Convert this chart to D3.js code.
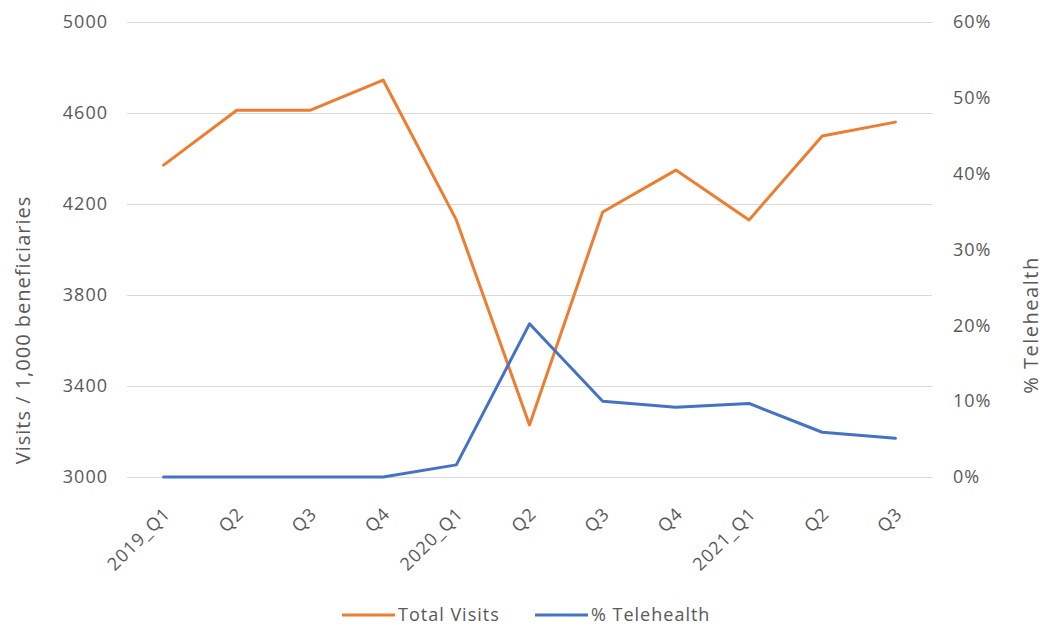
<!DOCTYPE html>
<html>
<head>
<meta charset="utf-8">
<script src="https://cdn.jsdelivr.net/npm/d3@7"></script>
<style>
  html, body { margin: 0; padding: 0; background: #fff; }
  svg text { font-family: "Open Sans", "Liberation Sans", sans-serif; fill: #595959; }
</style>
</head>
<body>
<svg id="chart" width="1044" height="627"></svg>
<script>
// Quarterly categories
const quarters = ["2019_Q1", "Q2", "Q3", "Q4", "2020_Q1", "Q2", "Q3", "Q4", "2021_Q1", "Q2", "Q3"];
// Total visits per 1,000 beneficiaries (left axis)
const totalVisits = [4371, 4612, 4612, 4745, 4130, 3229, 4165, 4349, 4130, 4499, 4560];
// Share of visits delivered by telehealth (right axis)
const telehealthShare = [0.0, 0.0, 0.0, 0.0, 0.016, 0.202, 0.100, 0.092, 0.097, 0.059, 0.051];
// Axis ticks
const leftTicks = [3000, 3400, 3800, 4200, 4600, 5000];
const rightTicks = [0, 0.1, 0.2, 0.3, 0.4, 0.5, 0.6];

const seriesNames = ["Total Visits", "% Telehealth"];
const colors = ["#ED7D31", "#4472C4"];

const svg = d3.select("#chart");
const plot = { left: 127, right: 932, top: 22, bottom: 477 };

const x = d3.scaleBand()
  .domain(d3.range(quarters.length))
  .range([plot.left, plot.right]);

const yLeft = d3.scaleLinear().domain([3000, 5000]).range([plot.bottom, plot.top]);
const yRight = d3.scaleLinear().domain([0, 0.6]).range([plot.bottom, plot.top]);

// Horizontal gridlines follow the left axis
svg.append("g")
  .selectAll("line")
  .data(leftTicks)
  .join("line")
  .attr("x1", plot.left)
  .attr("x2", plot.right)
  .attr("y1", d => Math.round(yLeft(d)) + 0.5)
  .attr("y2", d => Math.round(yLeft(d)) + 0.5)
  .attr("stroke", "#d9d9d9")
  .attr("stroke-width", 1);

const labelStyle = sel => sel
  .style("font-size", "18px")
  .style("letter-spacing", "1px")
  .attr("fill", "#595959");

// Left axis labels
const leftAxis = d3.axisLeft(yLeft).tickValues(leftTicks).tickFormat(d3.format("d")).tickSize(0).tickPadding(19);
const gl = svg.append("g").attr("transform", `translate(${plot.left},0)`).call(leftAxis);
gl.select(".domain").remove();
gl.selectAll("text").call(labelStyle);

// Right axis labels
const rightAxis = d3.axisRight(yRight).tickValues(rightTicks).tickFormat(d3.format(".0%")).tickSize(0).tickPadding(21);
const gr = svg.append("g").attr("transform", `translate(${plot.right},0)`).call(rightAxis);
gr.select(".domain").remove();
gr.selectAll("text").call(labelStyle);

// Category labels, rotated
const cx = i => x(i) + x.bandwidth() / 2;
svg.append("g")
  .selectAll("text")
  .data(quarters)
  .join("text")
  .attr("transform", (d, i) => `translate(${cx(i) + 8},${plot.bottom + 38}) rotate(-45)`)
  .attr("text-anchor", "end")
  .call(labelStyle)
  .text(d => d);

// Axis titles
svg.append("text")
  .attr("transform", `translate(30,330) rotate(-90)`)
  .attr("text-anchor", "middle")
  .style("font-size", "20px")
  .style("letter-spacing", "1px")
  .text("Visits / 1,000 beneficiaries");

svg.append("text")
  .attr("transform", `translate(1038,325) rotate(-90)`)
  .attr("text-anchor", "middle")
  .style("font-size", "20px")
  .style("letter-spacing", "1.5px")
  .text("% Telehealth");

// Series lines
const lineLeft = d3.line().x((d, i) => cx(i)).y(d => yLeft(d));
const lineRight = d3.line().x((d, i) => cx(i)).y(d => yRight(d));

svg.append("path")
  .datum(totalVisits)
  .attr("d", lineLeft)
  .attr("fill", "none")
  .attr("stroke", colors[0])
  .attr("stroke-width", 3)
  .attr("stroke-linejoin", "round")
  .attr("stroke-linecap", "round");

svg.append("path")
  .datum(telehealthShare)
  .attr("d", lineRight)
  .attr("fill", "none")
  .attr("stroke", colors[1])
  .attr("stroke-width", 3)
  .attr("stroke-linejoin", "round")
  .attr("stroke-linecap", "round");

// Legend
const legendX = [342, 535];
const legend = svg.append("g")
  .selectAll("g")
  .data(seriesNames)
  .join("g")
  .attr("transform", (d, i) => `translate(${legendX[i]},615)`);
legend.append("line")
  .attr("x1", 0).attr("x2", 53)
  .attr("stroke", (d, i) => colors[i])
  .attr("stroke-width", 3);
legend.append("text")
  .attr("x", 56)
  .attr("dy", "0.35em")
  .style("font-size", "18px")
  .style("letter-spacing", "1px")
  .text(d => d);
</script>
</body>
</html>
